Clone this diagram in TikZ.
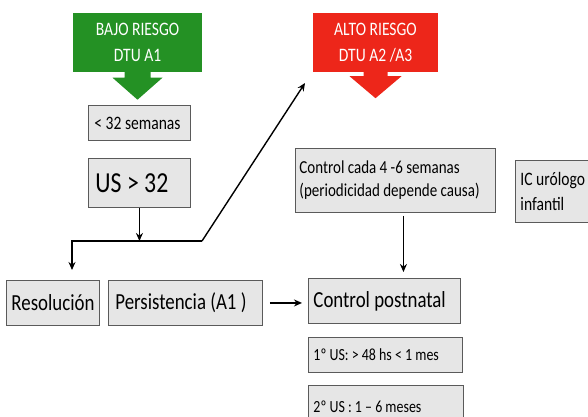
\documentclass[tikz,border=0pt]{standalone}
\usepackage{fontspec}
\setmainfont{Carlito}[FakeStretch=0.82]
\usetikzlibrary{arrows.meta}
\definecolor{riskgreen}{RGB}{36,145,36}
\definecolor{riskred}{RGB}{237,38,26}
\definecolor{boxgray}{RGB}{230,230,230}
\definecolor{boxline}{RGB}{90,90,90}

\begin{document}
\begin{tikzpicture}[x=1pt, y=-1pt,
    box/.style={rectangle, draw=boxline, line width=0.9pt, fill=boxgray, anchor=north west, align=flush left, inner xsep=5pt, inner ysep=0pt},
    risk/.style={rectangle, text=white, align=center, minimum width=129pt, minimum height=59pt, inner sep=0pt, font=\fontsize{19}{26}\selectfont},
    line/.style={draw, line width=1.4pt, -{Stealth[length=8pt,width=7pt]}}
  ]
  \useasboundingbox (0,0) rectangle (588,416);
  \clip (0,0) rectangle (588,416);

  % risk callouts
  \node[risk, fill=riskgreen] (bajo) at (137.5,42) {BAJO RIESGO\\DTU A1};
  \fill[riskgreen] ([xshift=-13pt]bajo.south) -- ++(0,6) -- ++(-12,0) -- ++(25,22) -- ++(25,-22) -- ++(-12,0) -- ++(0,-6) -- cycle;
  \node[risk, fill=riskred, minimum width=125pt] (alto) at (375.5,42.5) {ALTO RIESGO\\DTU A2 /A3};
  \fill[riskred] ([xshift=-12pt]alto.south) -- ++(0,4) -- ++(-14,0) -- ++(26,22) -- ++(26,-22) -- ++(-14,0) -- ++(0,-4) -- cycle;

  % boxes
  \node[box, text width=90pt, minimum height=35pt, inner xsep=6pt, font=\fontsize{19}{23}\selectfont] (sem) at (88,105) {< 32 semanas};
  \node[box, text width=88pt, minimum height=49pt, inner xsep=7pt, font=\fontsize{29}{35}\selectfont] (us) at (88,158) {US > 32};
  \node[box, text width=192pt, minimum height=64pt, inner xsep=4pt, font=\fontsize{18.3}{23}\selectfont] (ctrl) at (295,148) {Control cada 4 -6 semanas\\(periodicidad depende causa)};
  \node[box, text width=90pt, minimum height=62pt, font=\fontsize{19}{25}\selectfont] (ic) at (515,160) {IC urólogo\\infantil};
  \node[box, text width=83pt, minimum height=45pt, font=\fontsize{23}{27}\selectfont] (res) at (6,280) {Resolución};
  \node[box, text width=140pt, minimum height=45pt, inner xsep=7pt, font=\fontsize{23}{27}\selectfont] (pers) at (108,280) {Persistencia (A1 )};
  \node[box, text width=142pt, minimum height=45pt, font=\fontsize{23}{27}\selectfont] (post) at (308,278) {Control postnatal};
  \node[box, text width=144pt, minimum height=35pt, font=\fontsize{17}{20}\selectfont] (us1) at (308,337) {1º US: > 48 hs < 1 mes};
  \node[box, text width=145pt, minimum height=42pt, font=\fontsize{17}{20}\selectfont] (us2) at (308,385) {2º US : 1 – 6 meses};

  % connectors
  \coordinate (jl) at (72,241);
  \coordinate (jr) at (202,241);
  \coordinate (jd) at (72,270);
  \coordinate (ja) at (305,83);
  \coordinate (cd) at ([xshift=8pt]ctrl.south);
  \draw[line] (us.south) -- (us.south |- jl);
  \draw[line] (jr) -- (jl) -- (jd);
  \draw[line] (jr) -- (ja);
  \draw[line, shorten <=7pt, shorten >=6pt] (pers.east) -- (pers.east -| post.west);
  \draw[line, shorten <=3pt, shorten >=6pt] (cd) -- (cd |- post.north);
\end{tikzpicture}
\end{document}
